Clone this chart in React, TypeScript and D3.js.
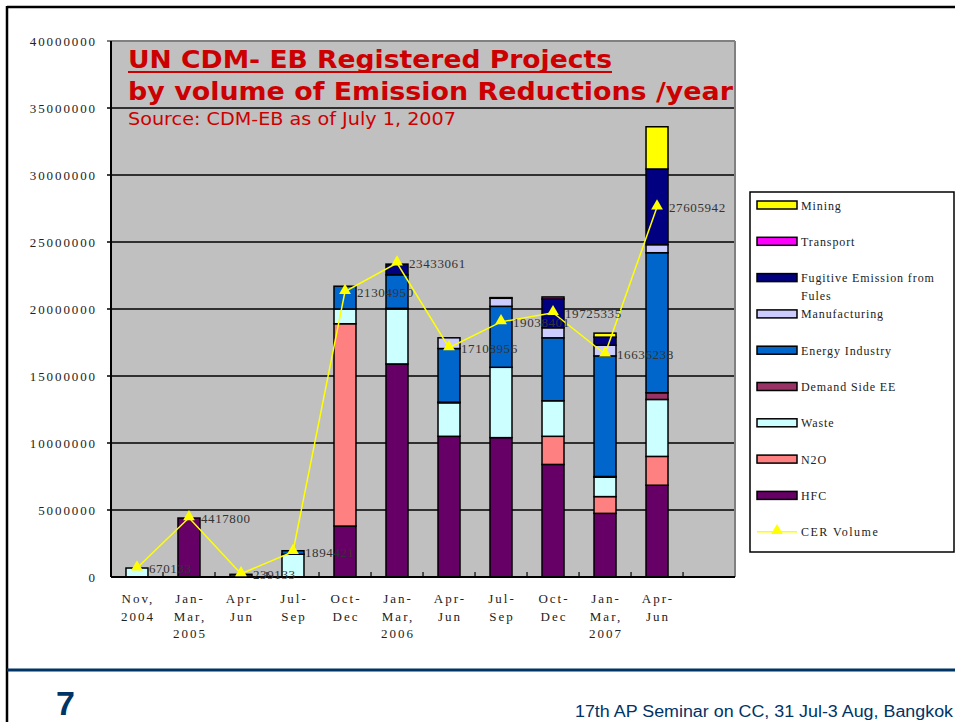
import React from 'react';
import * as d3 from 'd3';

// categories (last slot is empty in the original)
const periods = [
  ['Nov,', '2004'],
  ['Jan-', 'Mar,', '2005'],
  ['Apr-', 'Jun'],
  ['Jul-', 'Sep'],
  ['Oct-', 'Dec'],
  ['Jan-', 'Mar,', '2006'],
  ['Apr-', 'Jun'],
  ['Jul-', 'Sep'],
  ['Oct-', 'Dec'],
  ['Jan-', 'Mar,', '2007'],
  ['Apr-', 'Jun'],
  [],
];

// stacked sectors, million tCO2e / year
const hfc = [0, 4.4, 0.2, 0, 3.8, 15.9, 10.5, 10.4, 8.4, 4.75, 6.85, 0];
const n2o = [0, 0, 0, 0, 15.1, 0, 0, 0, 2.1, 1.25, 2.15, 0];
const waste = [0.67, 0, 0, 1.7, 1.1, 4.1, 2.5, 5.25, 2.65, 1.45, 4.25, 0];
const demandSide = [0, 0, 0, 0, 0, 0.05, 0.05, 0, 0, 0.05, 0.5, 0];
const energy = [0, 0, 0, 0.26, 1.7, 2.5, 4.0, 4.55, 4.7, 9.0, 10.45, 0];
const manufacturing = [0, 0, 0, 0, 0, 0, 0.8, 0.6, 0.75, 0.8, 0.6, 0];
const fugitive = [0, 0, 0, 0, 0, 0.8, 0, 0.05, 2.15, 0.6, 5.65, 0];
const transport = [0, 0, 0, 0, 0, 0, 0, 0, 0.15, 0, 0, 0];
const mining = [0, 0, 0, 0, 0, 0, 0, 0, 0, 0.3, 3.15, 0];

// CER volume line
const cerVolume = [670133, 4417800, 239133, 1894421, 21304950, 23433061, 17108956,
  19038401, 19725335, 16636238, 27605942];

const yTicks = [0, 5000000, 10000000, 15000000, 20000000, 25000000, 30000000, 35000000, 40000000];

const series = [
  { key: 'hfc', name: 'HFC', color: '#660066', values: hfc },
  { key: 'n2o', name: 'N2O', color: '#FF8080', values: n2o },
  { key: 'waste', name: 'Waste', color: '#CCFFFF', values: waste },
  { key: 'dse', name: 'Demand Side EE', color: '#993366', values: demandSide },
  { key: 'energy', name: 'Energy Industry', color: '#0066CC', values: energy },
  { key: 'manu', name: 'Manufacturing', color: '#CCCCFF', values: manufacturing },
  { key: 'fug', name: 'Fugitive Emission from|Fules', color: '#000080', values: fugitive },
  { key: 'trans', name: 'Transport', color: '#FF00FF', values: transport },
  { key: 'mining', name: 'Mining', color: '#FFFF00', values: mining },
];

const serif = "'Liberation Serif', 'DejaVu Serif', serif";
const sans = "'DejaVu Sans', Verdana, sans-serif";

export default function App() {
  const left = 111, right = 735, top = 41, bottom = 577;
  const x = d3.scaleBand<number>().domain(d3.range(periods.length)).range([left, right])
    .paddingInner(0.577).paddingOuter(0.288);
  const y = d3.scaleLinear().domain([0, 40000000]).range([bottom, top]);

  const table = periods.map((_, i) => {
    const row: any = { i };
    series.forEach(s => { row[s.key] = s.values[i] * 1e6; });
    return row;
  });
  const stacked = d3.stack<any>().keys(series.map(s => s.key))(table);

  const cx = (i: number) => (x(i) as number) + x.bandwidth() / 2;
  const line = d3.line<number>().x((_, i) => cx(i)).y(d => y(d));
  const tri = d3.symbol().type(d3.symbolTriangle).size(60);

  const legendItems = [...series].reverse();
  const legendY = (k: number) => 205 + k * 36.3;

  return (
    <div style={{ position: 'absolute', left: 0, top: 0 }}>
      <svg width={955} height={722} style={{ display: 'block', background: '#fff' }}>
        {/* slide frame */}
        <line x1={7} x2={955} y1={7} y2={7} stroke="#000" strokeWidth={2.5} />
        <line x1={7} x2={7} y1={6} y2={722} stroke="#000" strokeWidth={2.5} />
        <line x1={7} x2={955} y1={670} y2={670} stroke="#003366" strokeWidth={3} />
        <text x={56} y={715} fontFamily="'Liberation Sans', Arial, sans-serif" fontWeight="bold"
          fontSize={34} fill="#003366">7</text>
        <text x={953} y={717} textAnchor="end" fontFamily="'Liberation Sans', Arial, sans-serif"
          fontSize={16} fill="#003366" textLength={378} lengthAdjust="spacingAndGlyphs">
          17th AP Seminar on CC, 31 Jul-3 Aug, Bangkok</text>

        {/* plot area */}
        <rect x={left} y={top} width={right - left} height={bottom - top} fill="#C0C0C0" />
        {yTicks.filter(t => t > 0).map(t => (
          <line key={t} x1={left - 4} x2={right} y1={y(t)} y2={y(t)}
            stroke={t === 40000000 ? '#808080' : '#000'} strokeWidth={t === 40000000 ? 2 : 1.5} />
        ))}
        <line x1={right} x2={right} y1={top} y2={bottom} stroke="#808080" strokeWidth={2} />

        {yTicks.map(t => (
          <text key={t} x={97} y={y(t) + 4.5} textAnchor="end" fontFamily={serif} fontSize={13}
            letterSpacing={1.9} fill="#222">{t}</text>
        ))}

        {/* title */}
        <text x={128} y={68} fontFamily={sans} fontWeight="bold" fontSize={25} fill="#CC0000"
          textLength={484} lengthAdjust="spacingAndGlyphs">UN CDM- EB Registered Projects</text>
        <line x1={128} x2={612} y1={72} y2={72} stroke="#CC0000" strokeWidth={2} />
        <text x={128} y={100} fontFamily={sans} fontWeight="bold" fontSize={25} fill="#CC0000"
          textLength={605} lengthAdjust="spacingAndGlyphs">by volume of Emission Reductions /year</text>
        <text x={128} y={125} fontFamily={sans} fontSize={17.5} fill="#CC0000"
          textLength={328} lengthAdjust="spacingAndGlyphs">Source: CDM-EB as of July 1, 2007</text>

        {/* stacked bars */}
        {stacked.map((layer, li) => (
          <g key={layer.key}>
            {layer.map((d, i) => d[1] - d[0] > 0 ? (
              <rect key={i} x={x(i)} width={x.bandwidth()} y={y(d[1])} height={y(d[0]) - y(d[1])}
                fill={series[li].color} stroke="#000" strokeWidth={1.5} />
            ) : null)}
          </g>
        ))}

        {/* axes */}
        <line x1={left} x2={right} y1={bottom} y2={bottom} stroke="#000" strokeWidth={2} />
        <line x1={left} x2={left} y1={top} y2={bottom} stroke="#000" strokeWidth={2} />
        {d3.range(1, periods.length).map(i => (
          <line key={i} x1={(x(i) as number) - x.step() * 0.288} x2={(x(i) as number) - x.step() * 0.288}
            y1={bottom} y2={bottom - 5} stroke="#000" strokeWidth={1.2} />
        ))}
        {periods.map((p, i) => p.map((s, j) => (
          <text key={i + '-' + j} x={cx(i) + 1} y={603 + j * 17.5} textAnchor="middle" fontFamily={serif}
            fontSize={13} letterSpacing={2} fill="#222">{s}</text>
        )))}

        {/* CER volume */}
        <path d={line(cerVolume) as string} fill="none" stroke="#FFFF00" strokeWidth={1.5} />
        {cerVolume.map((v, i) => (
          <g key={i}>
            <path d={tri() as string} transform={`translate(${cx(i)},${y(v) - 1})`} fill="#FFFF00" />
            <text x={cx(i) + 12} y={y(v) + 5} fontFamily={serif} fontSize={13} letterSpacing={0.6}
              fill="#333">{v}</text>
          </g>
        ))}

        {/* legend */}
        <rect x={750} y={192} width={204} height={360} fill="#fff" stroke="#000" strokeWidth={1.5} />
        {legendItems.map((s, k) => (
          <g key={s.key}>
            <rect x={757} y={legendY(k) - 4} width={40} height={8} fill={s.color} stroke="#000" strokeWidth={1.5} />
            {s.name.split('|').map((t, j) => (
              <text key={j} x={801} y={legendY(k) + 4.5 + j * 17.5} fontFamily={serif} fontSize={12}
                letterSpacing={0.9} fill="#222">{t}</text>
            ))}
          </g>
        ))}
        <line x1={757} x2={797} y1={legendY(9)} y2={legendY(9)} stroke="#FFFF00" strokeWidth={1.5} />
        <path d={tri() as string} transform={`translate(777,${legendY(9) - 1})`} fill="#FFFF00" />
        <text x={801} y={legendY(9) + 4.5} fontFamily={serif} fontSize={12} letterSpacing={1.5}
          fill="#222">CER Volume</text>
      </svg>
    </div>
  );
}
